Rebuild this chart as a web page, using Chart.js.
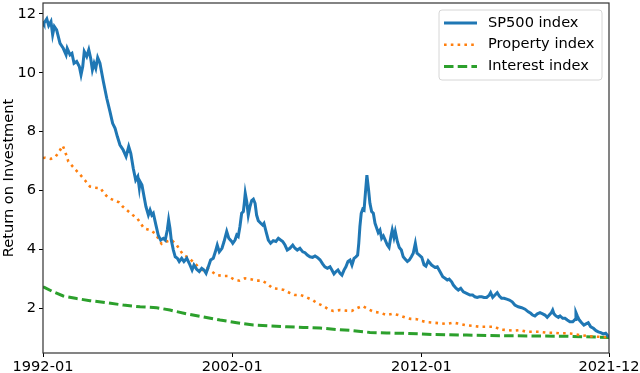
<!DOCTYPE html>
<html>
<head>
<meta charset="utf-8">
<script src="https://cdn.jsdelivr.net/npm/chart.js@4"></script>
<style>
    html, body { margin: 0; padding: 0; background: #fff; }
    #wrap { width: 640px; height: 373px; }
</style>
</head>
<body>
<div id="wrap"><canvas id="roiChart" width="640" height="373"></canvas></div>
<script>
// Data (x in decimal years)
const spYears = [1992.00, 1992.05, 1992.20, 1992.30, 1992.42, 1992.51, 1992.60, 1992.72, 1992.90, 1993.07, 1993.22, 1993.28, 1993.43, 1993.53, 1993.64, 1993.78, 1993.92, 1994.01, 1994.10, 1994.18, 1994.31, 1994.42, 1994.52, 1994.61, 1994.70, 1994.79, 1994.89, 1995.01, 1995.19, 1995.37, 1995.54, 1995.68, 1995.81, 1995.93, 1996.07, 1996.24, 1996.39, 1996.53, 1996.64, 1996.77, 1996.90, 1997.01, 1997.09, 1997.13, 1997.23, 1997.34, 1997.44, 1997.57, 1997.66, 1997.75, 1997.83, 1997.97, 1998.09, 1998.22, 1998.36, 1998.46, 1998.57, 1998.64, 1998.71, 1998.78, 1998.89, 1998.99, 1999.10, 1999.20, 1999.33, 1999.45, 1999.60, 1999.73, 1999.88, 1999.98, 2000.12, 2000.26, 2000.39, 2000.51, 2000.62, 2000.74, 2000.86, 2001.00, 2001.11, 2001.21, 2001.32, 2001.46, 2001.57, 2001.71, 2001.82, 2001.97, 2002.03, 2002.15, 2002.24, 2002.32, 2002.41, 2002.50, 2002.59, 2002.64, 2002.69, 2002.77, 2002.85, 2002.94, 2003.03, 2003.12, 2003.21, 2003.29, 2003.38, 2003.51, 2003.61, 2003.68, 2003.79, 2003.91, 2004.03, 2004.17, 2004.31, 2004.44, 2004.56, 2004.67, 2004.79, 2004.91, 2005.05, 2005.20, 2005.32, 2005.44, 2005.58, 2005.73, 2005.85, 2005.97, 2006.11, 2006.25, 2006.38, 2006.50, 2006.64, 2006.78, 2006.90, 2007.03, 2007.17, 2007.27, 2007.38, 2007.49, 2007.59, 2007.70, 2007.80, 2007.91, 2008.01, 2008.12, 2008.23, 2008.33, 2008.44, 2008.54, 2008.63, 2008.69, 2008.75, 2008.82, 2008.90, 2008.97, 2009.04, 2009.12, 2009.21, 2009.28, 2009.37, 2009.46, 2009.55, 2009.64, 2009.72, 2009.81, 2009.90, 2009.99, 2010.09, 2010.20, 2010.29, 2010.39, 2010.46, 2010.55, 2010.62, 2010.73, 2010.83, 2010.94, 2011.04, 2011.15, 2011.26, 2011.36, 2011.47, 2011.57, 2011.68, 2011.77, 2011.89, 2012.02, 2012.14, 2012.24, 2012.36, 2012.54, 2012.72, 2012.84, 2012.98, 2013.13, 2013.25, 2013.37, 2013.47, 2013.60, 2013.69, 2013.83, 2013.95, 2014.08, 2014.22, 2014.39, 2014.57, 2014.71, 2014.83, 2014.95, 2015.06, 2015.19, 2015.31, 2015.45, 2015.59, 2015.66, 2015.77, 2015.89, 2016.01, 2016.12, 2016.24, 2016.37, 2016.51, 2016.65, 2016.80, 2016.94, 2017.12, 2017.30, 2017.48, 2017.65, 2017.78, 2017.88, 2018.00, 2018.13, 2018.27, 2018.41, 2018.53, 2018.65, 2018.76, 2018.87, 2018.94, 2019.01, 2019.11, 2019.24, 2019.33, 2019.47, 2019.59, 2019.71, 2019.85, 2020.00, 2020.12, 2020.17, 2020.24, 2020.35, 2020.47, 2020.59, 2020.70, 2020.82, 2020.95, 2021.09, 2021.23, 2021.35, 2021.48, 2021.61, 2021.74, 2021.82, 2021.92];
const spValues = [11.75, 11.68, 11.83, 11.60, 11.74, 11.29, 11.57, 11.46, 11.00, 10.83, 10.61, 10.83, 10.61, 10.66, 10.32, 10.38, 10.21, 9.93, 10.21, 10.72, 10.55, 10.78, 10.49, 10.10, 10.32, 10.15, 10.51, 10.32, 9.70, 9.13, 8.68, 8.28, 8.11, 7.83, 7.54, 7.37, 7.15, 7.49, 7.26, 6.75, 6.35, 6.47, 6.09, 6.30, 6.18, 5.79, 5.45, 5.16, 5.33, 5.16, 5.22, 4.82, 4.48, 4.31, 4.37, 4.31, 4.65, 4.99, 4.71, 4.31, 3.97, 3.74, 3.69, 3.58, 3.69, 3.58, 3.69, 3.52, 3.29, 3.46, 3.32, 3.24, 3.35, 3.29, 3.18, 3.40, 3.63, 3.69, 3.91, 4.14, 3.91, 4.03, 4.26, 4.60, 4.37, 4.26, 4.20, 4.31, 4.48, 4.43, 4.77, 5.22, 5.28, 5.56, 5.90, 5.61, 5.16, 5.45, 5.65, 5.70, 5.56, 5.16, 4.97, 4.88, 4.82, 4.88, 4.60, 4.31, 4.20, 4.29, 4.26, 4.37, 4.31, 4.26, 4.14, 3.97, 4.03, 4.14, 4.03, 3.97, 4.03, 3.91, 3.88, 3.80, 3.74, 3.72, 3.77, 3.72, 3.64, 3.50, 3.40, 3.35, 3.40, 3.29, 3.16, 3.24, 3.29, 3.18, 3.12, 3.29, 3.40, 3.58, 3.63, 3.46, 3.69, 3.74, 3.80, 4.20, 4.77, 5.22, 5.36, 5.33, 5.90, 6.52, 6.01, 5.56, 5.28, 5.22, 4.88, 4.71, 4.56, 4.65, 4.37, 4.45, 4.31, 4.14, 4.06, 4.43, 4.65, 4.40, 4.60, 4.26, 4.06, 3.97, 3.74, 3.66, 3.58, 3.63, 3.74, 3.86, 4.20, 3.86, 3.80, 3.72, 3.47, 3.42, 3.60, 3.46, 3.38, 3.40, 3.24, 3.06, 3.01, 2.95, 2.98, 2.89, 2.78, 2.67, 2.61, 2.67, 2.55, 2.50, 2.44, 2.44, 2.38, 2.36, 2.38, 2.38, 2.36, 2.36, 2.44, 2.52, 2.36, 2.44, 2.52, 2.41, 2.33, 2.33, 2.30, 2.27, 2.21, 2.10, 2.04, 2.01, 1.96, 1.87, 1.82, 1.76, 1.73, 1.80, 1.84, 1.80, 1.76, 1.68, 1.76, 1.84, 1.93, 1.80, 1.73, 1.68, 1.73, 1.65, 1.65, 1.59, 1.53, 1.53, 1.61, 1.84, 1.73, 1.59, 1.50, 1.42, 1.46, 1.50, 1.36, 1.31, 1.23, 1.19, 1.16, 1.12, 1.14, 1.08, 1.02];

const propYears = [1992.00, 1992.11, 1992.41, 1992.67, 1992.86, 1993.04, 1993.16, 1993.34, 1993.60, 1993.81, 1994.05, 1994.27, 1994.48, 1994.75, 1995.05, 1995.22, 1995.45, 1995.72, 1996.02, 1996.21, 1996.74, 1996.98, 1997.16, 1997.34, 1997.66, 1997.92, 1998.09, 1998.27, 1998.54, 1998.80, 1999.07, 1999.24, 1999.42, 1999.68, 1999.91, 2000.12, 2000.30, 2000.44, 2000.65, 2000.92, 2001.18, 2001.50, 2001.79, 2002.10, 2002.38, 2002.68, 2002.98, 2003.29, 2003.59, 2003.86, 2004.14, 2004.44, 2004.74, 2005.02, 2005.32, 2005.62, 2005.94, 2006.25, 2006.50, 2006.78, 2007.08, 2007.34, 2007.70, 2008.05, 2008.32, 2008.58, 2008.88, 2009.19, 2009.49, 2009.81, 2010.17, 2010.48, 2010.78, 2011.13, 2011.43, 2011.75, 2011.93, 2012.28, 2012.63, 2012.98, 2013.34, 2013.69, 2014.04, 2014.39, 2014.74, 2015.10, 2015.45, 2015.89, 2016.15, 2016.51, 2016.86, 2017.21, 2017.57, 2017.91, 2018.27, 2018.62, 2018.97, 2019.33, 2019.68, 2020.03, 2020.38, 2020.74, 2021.09, 2021.44, 2021.92];
const propValues = [7.10, 7.11, 7.07, 7.15, 7.32, 7.52, 7.34, 6.98, 6.79, 6.64, 6.47, 6.30, 6.13, 6.09, 6.07, 5.90, 5.75, 5.67, 5.59, 5.45, 5.16, 5.05, 4.88, 4.71, 4.65, 4.54, 4.37, 4.18, 4.26, 4.31, 4.14, 3.97, 3.80, 3.72, 3.58, 3.46, 3.32, 3.29, 3.35, 3.24, 3.12, 3.09, 3.09, 2.97, 2.93, 3.01, 2.98, 2.93, 2.93, 2.82, 2.67, 2.65, 2.61, 2.52, 2.44, 2.44, 2.36, 2.27, 2.16, 2.08, 1.96, 1.90, 1.93, 1.91, 1.90, 1.99, 2.07, 1.96, 1.87, 1.84, 1.76, 1.80, 1.76, 1.68, 1.63, 1.62, 1.57, 1.52, 1.50, 1.48, 1.46, 1.50, 1.46, 1.41, 1.39, 1.36, 1.36, 1.36, 1.27, 1.25, 1.23, 1.25, 1.19, 1.19, 1.19, 1.16, 1.16, 1.14, 1.14, 1.12, 1.08, 1.05, 1.03, 1.02, 1.00];

const rateYears = [1992.00, 1992.07, 1992.54, 1993.07, 1993.78, 1994.48, 1995.37, 1996.24, 1997.13, 1998.01, 1998.71, 1999.60, 2000.47, 2001.36, 2002.24, 2003.12, 2004.00, 2004.88, 2005.76, 2006.64, 2007.52, 2008.40, 2009.28, 2010.17, 2011.04, 2012.63, 2014.39, 2016.15, 2017.91, 2019.68, 2021.92];
const rateValues = [2.72, 2.70, 2.55, 2.41, 2.32, 2.25, 2.18, 2.10, 2.04, 2.01, 1.93, 1.80, 1.70, 1.59, 1.50, 1.42, 1.39, 1.36, 1.34, 1.32, 1.27, 1.23, 1.17, 1.15, 1.14, 1.10, 1.08, 1.06, 1.05, 1.04, 1.00];

const seriesLabels = ['SP500 index', 'Property index', 'Interest index'];
const xTickValues = [1992, 2002, 2012, 2021 + 11 / 12];
const xTickLabels = ['1992-01', '2002-01', '2012-01', '2021-12'];
const yTickValues = [2, 4, 6, 8, 10, 12];

const FONT = 'DejaVu Sans';
const FONT_SIZE = 14.6;
const toPoints = (xs, ys) => xs.map((x, i) => ({ x: x, y: ys[i] }));

// Frame around the plot area plus a matplotlib-like legend
const framePlugin = {
    id: 'frame',
    afterDraw(chart) {
        const { ctx, chartArea: a } = chart;
        ctx.save();
        ctx.strokeStyle = '#333';
        ctx.lineWidth = 1.2;
        ctx.strokeRect(a.left, a.top, a.right - a.left, a.bottom - a.top);

        // legend box
        const bx = a.right - 170, by = a.top + 7, bw = 163, bh = 70;
        ctx.beginPath();
        ctx.roundRect(bx, by, bw, bh, 3);
        ctx.fillStyle = 'rgba(255,255,255,0.8)';
        ctx.fill();
        ctx.strokeStyle = '#d6d6d6';
        ctx.lineWidth = 1;
        ctx.stroke();

        ctx.font = FONT_SIZE + 'px "' + FONT + '"';
        ctx.textBaseline = 'middle';
        chart.data.datasets.forEach((ds, i) => {
            const y = by + 13 + i * 21.7;
            ctx.beginPath();
            ctx.setLineDash(ds.borderDash || []);
            ctx.lineCap = 'butt';
            ctx.strokeStyle = ds.borderColor;
            ctx.lineWidth = ds.borderWidth;
            ctx.moveTo(bx + 5, y);
            ctx.lineTo(bx + 38, y);
            ctx.stroke();
            ctx.setLineDash([]);
            ctx.fillStyle = '#000';
            ctx.fillText(ds.label, bx + 49, y);
        });
        ctx.restore();
    }
};

const ctx = document.getElementById('roiChart').getContext('2d');

new Chart(ctx, {
    type: 'line',
    data: {
        datasets: [
            {
                label: seriesLabels[0],
                data: toPoints(spYears, spValues),
                borderColor: '#1f77b4',
                borderWidth: 3,
                pointRadius: 0,
                tension: 0
            },
            {
                label: seriesLabels[1],
                data: toPoints(propYears, propValues),
                borderColor: '#ff7f0e',
                borderWidth: 2.6,
                borderDash: [2.6, 4.2],
                pointRadius: 0,
                tension: 0
            },
            {
                label: seriesLabels[2],
                data: toPoints(rateYears, rateValues),
                borderColor: '#2ca02c',
                borderWidth: 3,
                borderDash: [9.5, 4.2],
                pointRadius: 0,
                tension: 0
            }
        ]
    },
    options: {
        responsive: false,
        animation: false,
        layout: { padding: { top: 3, right: 31, left: 0, bottom: 0 } },
        plugins: {
            legend: { display: false },
            tooltip: { enabled: false }
        },
        scales: {
            x: {
                type: 'linear',
                min: 1992,
                max: 2021 + 11 / 12,
                afterBuildTicks: s => { s.ticks = xTickValues.map(v => ({ value: v })); },
                afterFit: s => {
                    s.height = 20;
                    s.paddingLeft = 0;
                    s.paddingRight = 0;
                },
                grid: { drawOnChartArea: false, color: '#000', tickLength: 4 },
                border: { display: false },
                ticks: {
                    autoSkip: false,
                    maxRotation: 0,
                    padding: 1,
                    color: '#000',
                    font: { family: FONT, size: FONT_SIZE },
                    callback: (v, i) => xTickLabels[i]
                }
            },
            y: {
                min: 0.47,
                max: 12.37,
                afterBuildTicks: s => { s.ticks = yTickValues.map(v => ({ value: v })); },
                afterFit: s => {
                    s.width = 43;
                    s.paddingTop = 0;
                    s.paddingBottom = 0;
                },
                grid: { drawOnChartArea: false, color: '#000', tickLength: 4 },
                border: { display: false },
                title: {
                    display: true,
                    text: 'Return on Investment',
                    color: '#000',
                    font: { family: FONT, size: FONT_SIZE },
                    padding: { top: 0, bottom: 0 }
                },
                ticks: {
                    padding: 3,
                    color: '#000',
                    font: { family: FONT, size: FONT_SIZE }
                }
            }
        }
    },
    plugins: [framePlugin]
});
</script>
</body>
</html>
